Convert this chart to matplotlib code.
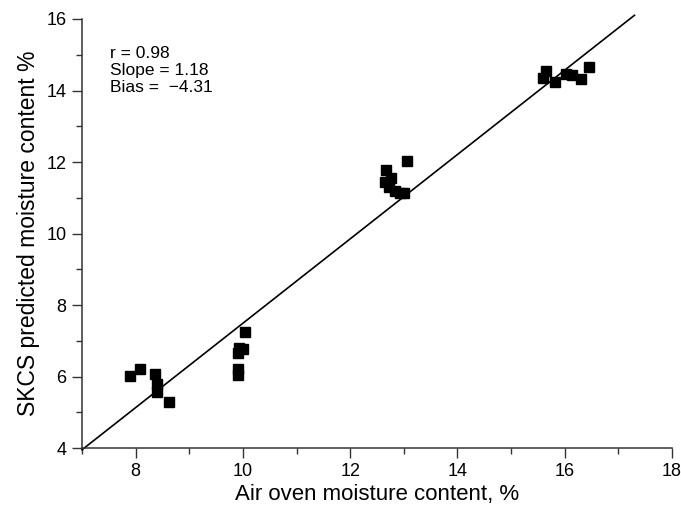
import matplotlib.pyplot as plt
import numpy as np

plt.rcParams['font.family'] = ['Liberation Sans', 'DejaVu Sans']

# air oven moisture (x) vs SKCS predicted moisture (y)
x_air = [7.9, 8.09, 8.36, 8.39, 8.39, 8.62,
         10.03, 9.93, 10.0, 9.91, 9.9, 9.9,
         12.67, 12.64, 12.77, 12.73, 12.83, 12.92, 13.0, 13.06,
         15.65, 15.6, 15.82, 16.02, 16.13, 16.3, 16.46]
y_skcs = [6.02, 6.21, 6.07, 5.79, 5.56, 5.28,
          7.25, 6.8, 6.78, 6.67, 6.2, 6.03,
          11.77, 11.44, 11.56, 11.3, 11.2, 11.13, 11.12, 12.02,
          14.54, 14.35, 14.23, 14.45, 14.42, 14.33, 14.67]

slope = 1.18
bias = -4.31
r = 0.98
line_x = [7.0, 17.3]

fig = plt.figure(figsize=(6.81, 5.08), dpi=100)
ax = fig.add_axes([0.1204, 0.1181, 0.8664, 0.8445])

lx = np.array(line_x)
ax.plot(lx, slope * lx + bias, color='black', lw=1.2, clip_on=False)
ax.plot(x_air, y_skcs, 's', color='black', markersize=7, clip_on=False)

ax.set_xlim(7, 18)
ax.set_ylim(4, 16)
ax.set_xticks([8, 10, 12, 14, 16, 18])
ax.set_xticks([7, 9, 11, 13, 15, 17], minor=True)
ax.set_yticks([4, 6, 8, 10, 12, 14, 16])
ax.set_yticks([5, 7, 9, 11, 13, 15], minor=True)
ax.tick_params(which='major', direction='out', length=7, width=1, labelsize=13, pad=4, color='#333333')
ax.tick_params(which='minor', direction='out', length=4, width=1, color='#333333')

for side in ['top', 'right']:
    ax.spines[side].set_visible(False)
for side in ['left', 'bottom']:
    ax.spines[side].set_linewidth(1.1)
    ax.spines[side].set_color('#333333')

ax.set_xlabel('Air oven moisture content, %', fontsize=16, labelpad=3)
ax.set_ylabel('SKCS predicted moisture content %', fontsize=16.5, labelpad=5)

ax.text(0.047, 0.938, 'r = %.2f\nSlope = %.2f\nBias =  \u2212%.2f' % (r, slope, -bias),
        transform=ax.transAxes, fontsize=12.5, va='top', ha='left', linespacing=1.2)

fig.savefig('out.png', dpi=100)
